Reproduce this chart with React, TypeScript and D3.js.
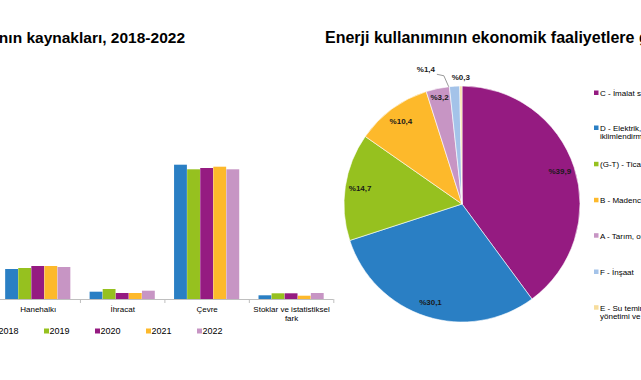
import React from "react";
import * as d3 from "d3";

const categories = ["Hanehalkı", "İhracat", "Çevre", "Stoklar ve istatistiksel fark"];
const years = ["2018", "2019", "2020", "2021", "2022"];
const values2018 = [30.0, 7.3, 134.3, 3.7];
const values2019 = [31.0, 10.0, 129.7, 5.7];
const values2020 = [33.0, 6.0, 131.0, 5.7];
const values2021 = [33.0, 6.0, 132.3, 3.3];
const values2022 = [32.0, 8.3, 129.7, 6.0];
const yearColors = ["#2A7FC4", "#96C11F", "#951B81", "#FDB92B", "#C795C4"];

const sectors = [
  "C - İmalat sanayi",
  "D - Elektrik, gaz, buhar ve\niklimlendirme üretimi ve dağıtımı",
  "(G-T) - Ticaret ve hizmetler",
  "B - Madencilik ve taşocakçılığı",
  "A - Tarım, ormancılık ve balıkçılık",
  "F - İnşaat",
  "E - Su temini; kanalizasyon, atık\nyönetimi ve iyileştirme faaliyetleri",
];
const shares = [39.9, 30.1, 14.7, 10.4, 3.2, 1.4, 0.3];
const sectorColors = ["#951B81", "#2A7FC4", "#96C11F", "#FDB92B", "#C795C4", "#A4C3E9", "#F7DD9C"];

const titleLeft = "Enerji kullanımının kaynakları, 2018-2022";
const titleRight = "Enerji kullanımının ekonomik faaliyetlere göre dağılımı, 2022";

const FONT = "'Liberation Sans', Arial, sans-serif";

export default function App() {
  const W = 641, H = 380;
  const series = [values2018, values2019, values2020, values2021, values2022];

  // Bar chart
  const baseY = 299;
  const x0 = d3.scaleBand<string>().domain(categories).range([-4.5, 333.3]).padding(0);
  const x1 = d3.scaleBand<string>().domain(years).range([9.4, 75.1]).padding(0.02);
  const y = d3.scaleLinear().domain([0, 140]).range([baseY, baseY - 140]);

  const wrapCat = (s: string) => {
    if (s.length <= 16) return [s];
    const i = s.lastIndexOf(" ");
    return [s.slice(0, i), s.slice(i + 1)];
  };

  // Pie
  const cx = 462, cy = 204, R = 118;
  const pie = d3.pie<number>().sort(null).value((d) => d).startAngle(0).endAngle(2 * Math.PI);
  const arcs = pie(shares);
  const arc = d3.arc<d3.PieArcDatum<number>>().innerRadius(0).outerRadius(R);
  const polar = (a: number, r: number) => [cx + r * Math.sin(a), cy - r * Math.cos(a)];
  const fmt = (v: number) => "%" + v.toFixed(1).replace(".", ",");

  const legendY = [93, 128, 164.3, 200.3, 235.7, 272, 307.7];

  return (
    <svg width={W} height={H} style={{ position: "absolute", left: 0, top: 0, background: "#fff" }} fontFamily={FONT}>
      <rect width={W} height={H} fill="#fff" />
      <text x={185} y={43} textAnchor="end" fontSize={15.5} fontWeight="bold" fill="#000">{titleLeft}</text>
      <text x={325} y={43} fontSize={16} fontWeight="bold" fill="#000">{titleRight}</text>

      {/* bars */}
      {categories.map((c, ci) => (
        <g key={c} transform={`translate(${x0(c)},0)`}>
          {years.map((yr, yi) => (
            <rect key={yr} x={x1(yr)} y={y(series[yi][ci])} width={x1.bandwidth()} height={baseY - y(series[yi][ci])} fill={yearColors[yi]} />
          ))}
        </g>
      ))}
      <line x1={-4.5} x2={333.3} y1={baseY + 0.5} y2={baseY + 0.5} stroke="#BFBFBF" strokeWidth={1} />
      {categories.map((c) => (
        <line key={c} x1={(x0(c) as number) + x0.step() + 0.5} x2={(x0(c) as number) + x0.step() + 0.5} y1={baseY} y2={baseY + 4} stroke="#BFBFBF" />
      ))}
      {categories.map((c) => (
        <text key={c} x={(x0(c) as number) + x0.step() / 2 + 0.5} y={312} textAnchor="middle" fontSize={8} fill="#000">
          {wrapCat(c).map((l, i) => (
            <tspan key={i} x={(x0(c) as number) + x0.step() / 2 + 0.5} dy={i === 0 ? 0 : 8.7}>{l}</tspan>
          ))}
        </text>
      ))}
      {years.map((yr, i) => (
        <g key={yr} transform={`translate(${-7 + i * 51},0)`}>
          <rect x={0} y={328.5} width={5} height={5} fill={yearColors[i]} />
          <text x={5.5} y={334} fontSize={9} fill="#000">{yr}</text>
        </g>
      ))}

      {/* pie */}
      <g transform={`translate(${cx},${cy})`}>
        {arcs.map((a, i) => (
          <path key={i} d={arc(a) as string} fill={sectorColors[i]} stroke="#fff" strokeWidth={0.6} />
        ))}
      </g>
      {arcs.map((a, i) => {
        const mid = (a.startAngle + a.endAngle) / 2;
        const v = shares[i];
        if (v >= 2) {
          const r = v < 5 ? 109 : 103;
          const [lx, ly] = polar(mid, r);
          return <text key={i} x={lx} y={ly} textAnchor="middle" dominantBaseline="central" fontSize={8} fontWeight="bold" fill="#1a1a1a">{fmt(v)}</text>;
        }
        if (v >= 1) {
          const [lx, ly] = polar(mid - 0.2, 139);
          const [ex, ey] = polar(mid - 0.05, R);
          return (
            <g key={i}>
              <polyline points={`${lx + 11},${ly + 4.5} ${lx + 18},${ly + 6} ${ex},${ey}`} fill="none" stroke="#7F7F7F" strokeWidth={0.8} />
              <text x={lx} y={ly} textAnchor="middle" dominantBaseline="central" fontSize={8} fontWeight="bold" fill="#1a1a1a">{fmt(v)}</text>
            </g>
          );
        }
        const [lx, ly] = polar(mid, 127);
        return <text key={i} x={lx} y={ly} textAnchor="middle" dominantBaseline="central" fontSize={8} fontWeight="bold" fill="#1a1a1a">{fmt(v)}</text>;
      })}

      {/* pie legend */}
      {sectors.map((s, i) => {
        const lines = s.split("\n");
        return (
          <g key={i}>
            <rect x={594} y={legendY[i] - 2.5} width={4.5} height={4.5} fill={sectorColors[i]} />
            <text x={600} y={legendY[i] + 2.8} fontSize={8} fill="#000">
              {lines.map((l, j) => (
                <tspan key={j} x={600} dy={j === 0 ? 0 : 8}>{l}</tspan>
              ))}
            </text>
          </g>
        );
      })}
    </svg>
  );
}
